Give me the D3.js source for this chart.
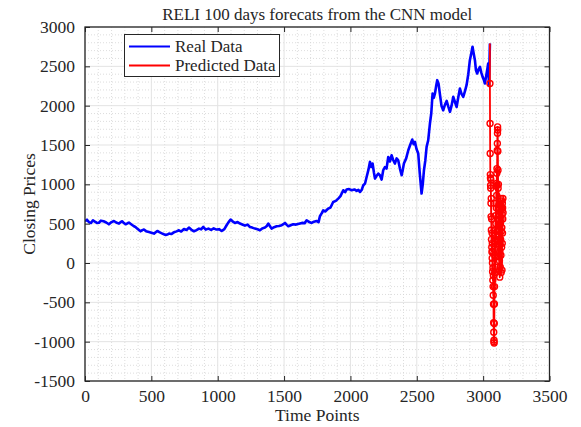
<!DOCTYPE html>
<html>
<head>
<meta charset="utf-8">
<script src="https://cdn.jsdelivr.net/npm/d3@7"></script>
<style>
  html, body { margin: 0; padding: 0; background: #fff; }
  svg { display: block; }
  text { font-family: "Liberation Serif", "Times New Roman", serif; fill: #262626; }
</style>
</head>
<body>
<svg id="chart" width="581" height="427"></svg>
<script>
const titleText = "RELI 100 days forecats from the CNN model";
const xLabel = "Time Points";
const yLabel = "Closing Prices";
const legendLabels = ["Real Data", "Predicted Data"];
const xTicks = [0, 500, 1000, 1500, 2000, 2500, 3000, 3500];
const yTicks = [-1500, -1000, -500, 0, 500, 1000, 1500, 2000, 2500, 3000];

const realTime = [0,15,30,45,60,75,90,105,120,140,160,180,200,218,235,256,270,281,295,306,320,331,350,369,382,394,407,419,432,444,460,482,500,520,533,545,560,583,595,608,620,633,650,670,690,708,725,746,765,783,800,821,840,859,875,891,910,930,950,970,990,1010,1030,1050,1067,1082,1097,1112,1130,1150,1168,1185,1205,1225,1243,1260,1281,1300,1318,1335,1356,1370,1381,1395,1406,1425,1444,1462,1482,1495,1507,1520,1532,1550,1569,1590,1620,1640,1655,1670,1690,1708,1725,1745,1760,1770,1783,1795,1810,1833,1850,1870,1890,1908,1925,1946,1960,1971,1990,2009,2030,2047,2060,2072,2085,2097,2110,2122,2135,2147,2157,2167,2177,2185,2198,2210,2222,2235,2247,2260,2272,2285,2298,2310,2322,2335,2348,2360,2373,2386,2395,2403,2420,2436,2450,2466,2476,2486,2498,2511,2522,2536,2545,2554,2564,2574,2586,2599,2609,2619,2628,2637,2646,2654,2664,2674,2686,2699,2712,2725,2737,2750,2762,2775,2787,2800,2812,2825,2837,2850,2862,2875,2888,2900,2910,2920,2929,2938,2946,2955,2965,2976,2986,2996,3005,3013,3020,3026,3033,3038,3044,3051];
const realValue = [530,550,520,509,543,525,509,512,538,530,515,492,520,534,515,501,522,530,505,492,505,514,490,467,455,437,420,403,418,425,405,394,385,374,390,407,392,374,365,356,362,374,368,390,402,416,400,432,420,450,425,403,418,437,428,458,425,437,420,440,425,430,407,430,480,520,552,530,509,520,501,490,475,488,458,450,437,428,416,440,450,470,501,465,437,455,467,470,480,495,509,485,467,480,492,488,501,510,505,543,520,509,525,534,520,594,630,670,655,692,705,776,790,819,850,925,900,934,940,925,935,916,930,903,930,988,1010,1094,1180,1285,1220,1264,1150,1073,1110,1137,1116,1060,1179,1220,1200,1348,1290,1370,1310,1264,1330,1306,1200,1116,1190,1264,1330,1433,1500,1570,1510,1540,1450,1391,1150,883,1000,1179,1300,1476,1560,1773,1900,2155,2100,2155,2250,2324,2280,2150,2000,1942,2010,2060,1990,1921,2000,2112,2050,1984,2100,2218,2150,2112,2180,2260,2400,2578,2660,2748,2660,2578,2450,2409,2460,2493,2420,2366,2330,2282,2350,2409,2480,2536,2250,2790];

const predStart = 3051;
const predValue = [2282,1773,1391,1124,1080,985,950,1060,760,590,820,420,300,560,200,140,380,60,250,0,-110,150,-220,-60,-300,-410,-160,-525,-760,-880,-1000,-980,-1017,-770,-520,-300,-120,100,280,-50,420,180,600,350,80,500,760,300,980,700,1010,860,1140,1200,990,1430,1520,1650,1730,1690,1420,1180,950,700,1000,560,300,620,80,400,-100,220,30,480,-180,150,650,250,-50,500,720,300,820,100,560,-120,400,700,200,790,450,-90,620,250,760,380,700,560,820,640];

const svg = d3.select("#chart");
const L = 85, R = 549.5, T = 27, B = 381;
const x = d3.scaleLinear().domain([0, 3500]).range([L, R]);
const y = d3.scaleLinear().domain([-1500, 3000]).range([B, T]);

// minor grid
const xMinor = d3.range(0, 3501, 100).filter(v => v % 500 !== 0);
const yMinor = d3.range(-1500, 3001, 100).filter(v => v % 500 !== 0);
const grid = svg.append("g");
grid.selectAll(".mx").data(xMinor).join("line")
  .attr("x1", d => x(d)).attr("x2", d => x(d)).attr("y1", T).attr("y2", B)
  .attr("stroke", "#d4d4d4").attr("stroke-width", 0.8).attr("stroke-dasharray", "1,2");
grid.selectAll(".my").data(yMinor).join("line")
  .attr("y1", d => y(d)).attr("y2", d => y(d)).attr("x1", L).attr("x2", R)
  .attr("stroke", "#d4d4d4").attr("stroke-width", 0.8).attr("stroke-dasharray", "1,2");
// major grid
grid.selectAll(".Mx").data(xTicks).join("line")
  .attr("x1", d => x(d)).attr("x2", d => x(d)).attr("y1", T).attr("y2", B)
  .attr("stroke", "#e3e3e3").attr("stroke-width", 1);
grid.selectAll(".My").data(yTicks).join("line")
  .attr("y1", d => y(d)).attr("y2", d => y(d)).attr("x1", L).attr("x2", R)
  .attr("stroke", "#e3e3e3").attr("stroke-width", 1);

svg.append("clipPath").attr("id", "clip").append("rect")
  .attr("x", L).attr("y", T).attr("width", R - L).attr("height", B - T);

const plot = svg.append("g").attr("clip-path", "url(#clip)");
const realData = realTime.map((t, i) => [t, realValue[i]]);
const line = d3.line().x(d => x(d[0])).y(d => y(d[1]));
plot.append("path").datum(realData).attr("d", line)
  .attr("fill", "none").attr("stroke", "#0000ff").attr("stroke-width", 2.6).attr("stroke-linejoin", "round");

const predData = predValue.map((v, i) => [predStart + i, v]);
const predLineData = [realData[realData.length - 1]].concat(predData);
plot.append("path").datum(predLineData).attr("d", line)
  .attr("fill", "none").attr("stroke", "#ff0000").attr("stroke-width", 1.8).attr("stroke-linejoin", "round");
plot.selectAll(".mk").data(predData).join("circle")
  .attr("cx", d => x(d[0])).attr("cy", d => y(d[1])).attr("r", 3)
  .attr("fill", "none").attr("stroke", "#ff0000").attr("stroke-width", 1.4);

// axes
const fmt = d => String(d);
const ax = svg.append("g");
ax.append("g").attr("transform", `translate(0,${B})`)
  .call(d3.axisBottom(x).tickValues(xTicks).tickFormat(fmt).tickSizeInner(-5).tickSizeOuter(0).tickPadding(9));
ax.append("g").attr("transform", `translate(0,${T})`)
  .call(d3.axisTop(x).tickValues(xTicks).tickFormat("").tickSizeInner(-5).tickSizeOuter(0));
ax.append("g").attr("transform", `translate(${L},0)`)
  .call(d3.axisLeft(y).tickValues(yTicks).tickFormat(fmt).tickSizeInner(-5).tickSizeOuter(0).tickPadding(10));
ax.append("g").attr("transform", `translate(${R},0)`)
  .call(d3.axisRight(y).tickValues(yTicks).tickFormat("").tickSizeInner(-5).tickSizeOuter(0));
ax.selectAll(".domain").remove();
ax.selectAll(".tick line").attr("stroke", "#262626");
ax.selectAll("text").style("font-family", "'Liberation Serif', serif").style("font-size", "17.5px").attr("fill", "#262626");
svg.append("rect").attr("x", L).attr("y", T).attr("width", R - L).attr("height", B - T)
  .attr("fill", "none").attr("stroke", "#262626").attr("stroke-width", 1.3);

// title & labels
svg.append("text").attr("x", (L + R) / 2).attr("y", 20).attr("text-anchor", "middle")
  .style("font-size", "17px").attr("fill", "#000").text(titleText);
svg.append("text").attr("x", (L + R) / 2).attr("y", 421).attr("text-anchor", "middle")
  .style("font-size", "17.5px").text(xLabel);
svg.append("text").attr("transform", `translate(35,${(T + B) / 2}) rotate(-90)`).attr("text-anchor", "middle")
  .style("font-size", "17.5px").text(yLabel);

// legend
const lg = svg.append("g");
lg.append("rect").attr("x", 124.5).attr("y", 34.5).attr("width", 155).attr("height", 42)
  .attr("fill", "#fff").attr("stroke", "#262626").attr("stroke-width", 1);
const legendColors = ["#0000ff", "#ff0000"];
legendLabels.forEach((lab, i) => {
  const yy = 46.5 + i * 19;
  lg.append("line").attr("x1", 129).attr("x2", 170).attr("y1", yy).attr("y2", yy)
    .attr("stroke", legendColors[i]).attr("stroke-width", 2);
  lg.append("text").attr("x", 175).attr("y", yy + 5.5).style("font-size", "17px").attr("fill", "#000").text(lab);
});
</script>
</body>
</html>
